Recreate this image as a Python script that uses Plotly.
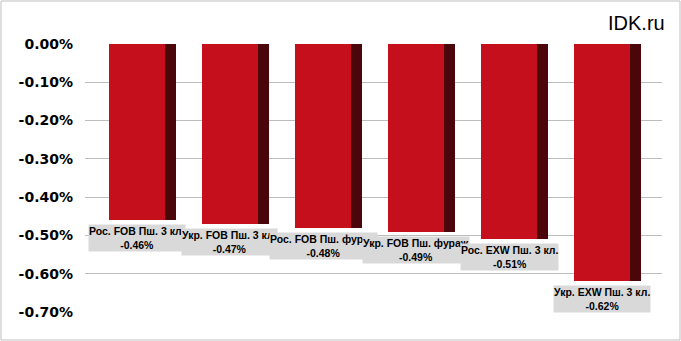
import plotly.graph_objects as go

names = ["Рос. FOB Пш. 3 кл.", "Укр. FOB Пш. 3 кл.", "Рос. FOB Пш. фураж",
         "Укр. FOB Пш. фураж", "Рос. EXW Пш. 3 кл.", "Укр. EXW Пш. 3 кл."]
values = [-0.46, -0.47, -0.48, -0.49, -0.51, -0.62]
value_labels = ["-0.46%", "-0.47%", "-0.48%", "-0.49%", "-0.51%", "-0.62%"]
tick_vals = [0.0, -0.1, -0.2, -0.3, -0.4, -0.5, -0.6, -0.7]
tick_labels = ["0.00%", "-0.10%", "-0.20%", "-0.30%", "-0.40%", "-0.50%", "-0.60%", "-0.70%"]

W, H = 681, 341
L, R, T, B = 85, 19, 44, 29
xs = list(range(len(values)))

fig = go.Figure()
fig.add_trace(go.Bar(x=xs, y=values, width=0.6, marker=dict(color="#c60f1d", line=dict(width=0)),
                     hoverinfo="skip", showlegend=False))
fig.add_trace(go.Bar(x=xs, y=values, width=0.115, offset=0.3,
                     marker=dict(color="#4b060b", line=dict(width=0)),
                     hoverinfo="skip", showlegend=False))

for i, (n, v, vl) in enumerate(zip(names, values, value_labels)):
    fig.add_annotation(x=i, y=v, xref="x", yref="y", text=f"<b>{n}<br>{vl}</b>",
                       showarrow=False, xanchor="center", yanchor="top", yshift=-4,
                       bgcolor="#d9d9d9", borderpad=0,
                       font=dict(family="Liberation Sans, Arial", size=10.5, color="#000"))

pw = W - L - R
ph = H - T - B
fig.add_shape(type="rect", xref="paper", yref="paper",
              x0=(-L + 1) / pw, x1=(pw + R - 1) / pw, y0=(-B + 1) / ph, y1=(ph + T - 1) / ph,
              line=dict(color="#bfbfbf", width=1), fillcolor="rgba(0,0,0,0)", layer="below")

fig.add_annotation(xref="paper", yref="paper", x=(pw + R - 14) / pw, y=(ph + T - 23) / ph,
                   text="IDK.ru", showarrow=False, xanchor="right", yanchor="middle",
                   font=dict(family="Liberation Sans, Arial", size=20, color="#000"))

fig.update_layout(
    width=W, height=H, margin=dict(l=L, r=R, t=T, b=B),
    paper_bgcolor="white", plot_bgcolor="white", barmode="overlay", bargap=0,
    xaxis=dict(range=[-0.559, 5.645], showgrid=False, showticklabels=False, zeroline=False,
               showline=False, fixedrange=True),
    yaxis=dict(range=[-0.7, 0.0], tickvals=tick_vals, ticktext=tick_labels,
               showgrid=True, gridcolor="#bdbdbd", gridwidth=1, zeroline=False, showline=False,
               ticklabelstandoff=11,
               tickfont=dict(family="DejaVu Sans", size=14, color="#000", weight="bold")),
)
fig.write_html("out.html")
